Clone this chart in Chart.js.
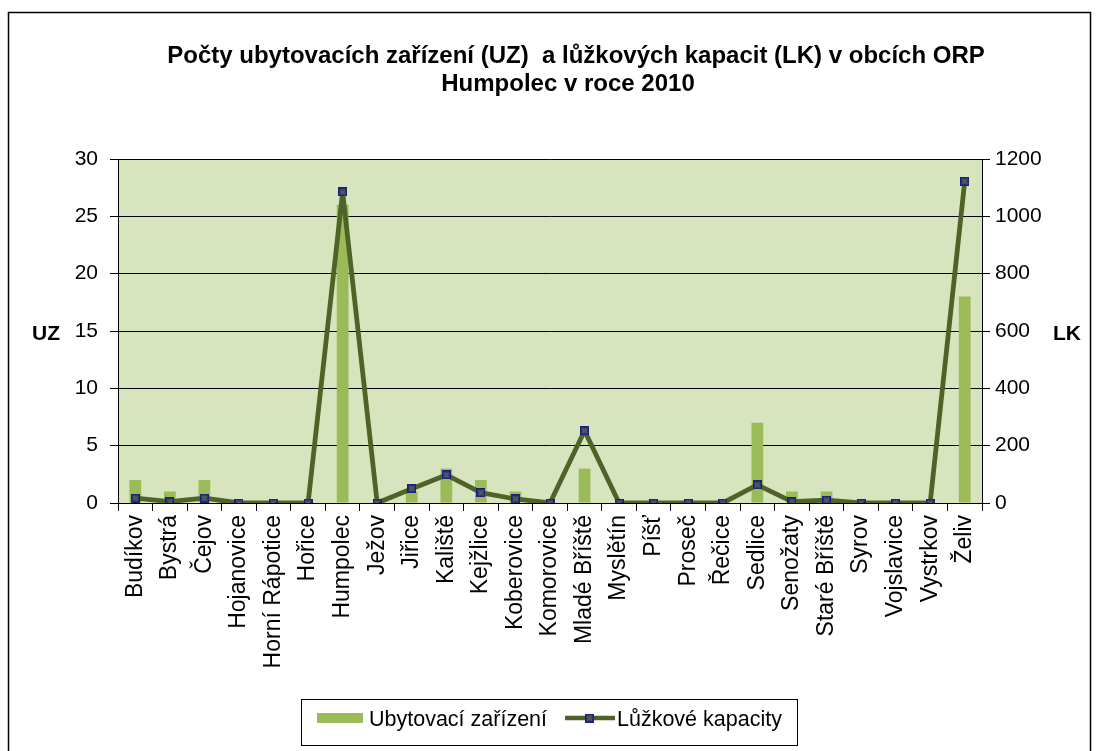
<!DOCTYPE html>
<html><head><meta charset="utf-8">
<script src="https://cdn.jsdelivr.net/npm/chart.js@4"></script>
<style>html,body{margin:0;padding:0;background:#fff;overflow:hidden}canvas{display:block}</style>
</head><body>
<canvas id="c" width="1100" height="751"></canvas>
<script>
const categories = ["Budíkov","Bystrá","Čejov","Hojanovice","Horní Rápotice","Hořice","Humpolec","Ježov","Jiřice","Kaliště","Kejžlice","Koberovice","Komorovice","Mladé Bříště","Myslětín","Píšť","Proseč","Řečice","Sedlice","Senožaty","Staré Bříště","Syrov","Vojslavice","Vystrkov","Želiv"];
const uzValues = [2,1,2,0,0,0,26,0,1,3,2,1,0,3,0,0,0,0,7,1,1,0,0,0,18];
const lkValues = [17,5,17,0,0,0,1085,0,50,98,36,14,0,252,0,0,0,0,63,5,10,0,0,0,1122];
const uzTicks = [0,5,10,15,20,25,30];
const lkTicks = [0,200,400,600,800,1000,1200];
const titleLines = ["Počty ubytovacích zařízení (UZ)  a lůžkových kapacit (LK) v obcích ORP","Humpolec v roce 2010"];
const seriesNames = ["Ubytovací zařízení","Lůžkové kapacity"];
const axisNames = ["UZ","LK"];

const FONT = '"Liberation Sans", Arial, sans-serif';

function makeMarker(){
  const c = document.createElement('canvas'); c.width = 9; c.height = 9;
  const g = c.getContext('2d');
  g.fillStyle = '#1c1c84'; g.fillRect(0,0,9,9);
  g.fillStyle = '#34408a'; g.fillRect(1.5,1.5,6,6);
  g.strokeStyle = '#4f6a2a'; g.lineWidth = 1.4;
  g.beginPath(); g.moveTo(2,2); g.lineTo(7,7); g.moveTo(7,2); g.lineTo(2,7); g.stroke();
  return c;
}
const marker = makeMarker();

const decor = {
  id: 'decor',
  beforeDraw(chart){
    const ctx = chart.ctx, a = chart.chartArea;
    ctx.save();
    ctx.fillStyle = '#ffffff'; ctx.fillRect(0,0,chart.width,chart.height);
    ctx.fillStyle = '#D7E4BD'; ctx.fillRect(a.left, a.top, a.right-a.left, a.bottom-a.top);
    ctx.restore();
  },
  afterDraw(chart){
    const ctx = chart.ctx;
    ctx.save();
    // outer frame
    ctx.strokeStyle = '#000'; ctx.lineWidth = 1.5;
    ctx.strokeRect(8.5, 12.5, 1082, 800);
    // title
    ctx.fillStyle = '#000'; ctx.textAlign = 'center'; ctx.textBaseline = 'alphabetic';
    ctx.font = 'bold 24px ' + FONT;
    ctx.fillText(titleLines[0], 576, 63);
    ctx.fillText(titleLines[1], 568, 91);
    // axis titles
    ctx.font = 'bold 21px ' + FONT;
    ctx.textAlign = 'left';
    ctx.fillText(axisNames[0], 32, 340);
    ctx.fillText(axisNames[1], 1053, 340);
    // legend
    ctx.strokeStyle = '#000'; ctx.lineWidth = 1;
    ctx.strokeRect(301.5, 699.5, 496, 46);
    ctx.fillStyle = '#9BBB59'; ctx.fillRect(317, 713, 46, 10);
    ctx.fillStyle = '#000'; ctx.font = '21.5px ' + FONT;
    ctx.fillText(seriesNames[0], 369, 726);
    ctx.strokeStyle = '#4F6228'; ctx.lineWidth = 4.5;
    ctx.beginPath(); ctx.moveTo(565, 718); ctx.lineTo(615, 718); ctx.stroke();
    ctx.drawImage(marker, 585, 713.5);
    ctx.fillText(seriesNames[1], 617, 726);
    ctx.restore();
  }
};

new Chart(document.getElementById('c'), {
  data: {
    labels: categories,
    datasets: [
      { type: 'line', label: seriesNames[1], data: lkValues, yAxisID: 'y1', order: 0,
        borderColor: '#4F6228', borderWidth: 4.8, tension: 0, fill: false, borderJoinStyle: 'round',
        pointStyle: marker, pointRadius: 4.5, pointHoverRadius: 4.5 },
      { type: 'bar', label: seriesNames[0], data: uzValues, yAxisID: 'y', order: 1,
        backgroundColor: '#9BBB59', borderWidth: 0, barPercentage: 0.34, categoryPercentage: 1 }
    ]
  },
  options: {
    responsive: false, animation: false, devicePixelRatio: 1,
    layout: { padding: { top: 159, left: 0, right: 0, bottom: 0 } },
    plugins: { legend: { display: false }, title: { display: false }, tooltip: { enabled: false } },
    scales: {
      x: {
        afterFit: s => { s.height = 248; },
        grid: { drawOnChartArea: false, drawTicks: true, tickLength: 8, tickColor: '#000', offset: true },
        border: { display: true, color: '#000', width: 1 },
        ticks: { autoSkip: false, maxRotation: 90, minRotation: 90, padding: 4, color: '#000',
                 font: { family: FONT, size: 23 } }
      },
      y: {
        position: 'left', min: 0, max: 30,
        afterFit: s => { s.width = 118; },
        afterBuildTicks: s => { s.ticks = uzTicks.map(v => ({ value: v })); },
        grid: { color: '#000', lineWidth: 1, drawTicks: true, tickLength: 8, tickColor: '#000' },
        border: { display: true, color: '#000', width: 1 },
        ticks: { padding: 12, color: '#000', font: { family: FONT, size: 21 }, callback: v => String(v) }
      },
      y1: {
        position: 'right', min: 0, max: 1200,
        afterFit: s => { s.width = 118; },
        afterBuildTicks: s => { s.ticks = lkTicks.map(v => ({ value: v })); },
        grid: { drawOnChartArea: false, drawTicks: true, tickLength: 8, tickColor: '#000' },
        border: { display: true, color: '#000', width: 1 },
        ticks: { padding: 5, color: '#000', font: { family: FONT, size: 21 }, callback: v => String(v) }
      }
    }
  },
  plugins: [decor]
});
</script>
</body></html>
